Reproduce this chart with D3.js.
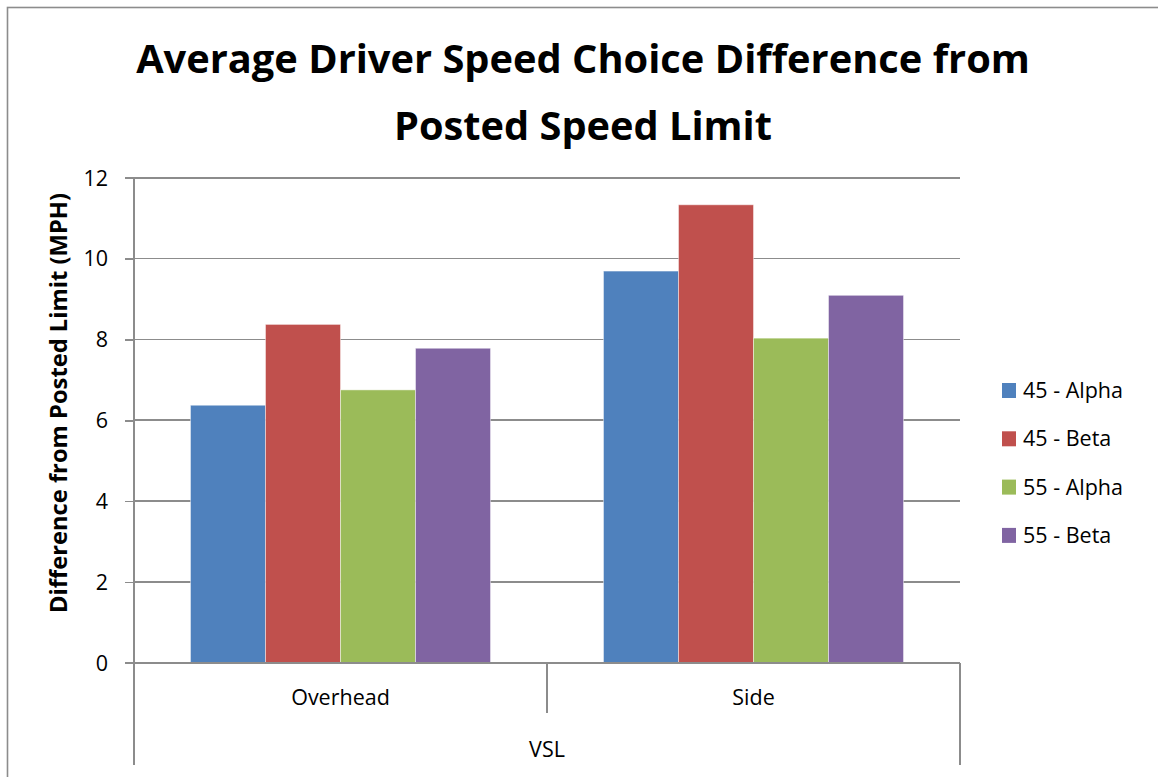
<!DOCTYPE html>
<html lang="en">
<head>
    <meta charset="utf-8">
    <title>Average Driver Speed Choice Difference from Posted Speed Limit</title>
    <style>
        body {
            margin: 0;
            background: #fff;
            font-family: "Open Sans", "Noto Sans", sans-serif;
        }
        .grid line { stroke: #8c8c8c; stroke-width: 1.6px; shape-rendering: crispEdges; }
        .axis line { stroke: #8c8c8c; stroke-width: 1.6px; shape-rendering: crispEdges; }
        text { fill: #000; }
    </style>
</head>
<body>
<div id="chart"></div>
<script src="https://d3js.org/d3.v7.min.js"></script>
<script>
    // data
    var categories = ["Overhead", "Side"];
    var series = ["45 - Alpha", "45 - Beta", "55 - Alpha", "55 - Beta"];
    var alpha45 = [6.37, 9.69];
    var beta45 = [8.37, 11.33];
    var alpha55 = [6.75, 8.03];
    var beta55 = [7.78, 9.09];
    var yTicks = [0, 2, 4, 6, 8, 10, 12];
    var groupLabel = "VSL";

    var values = [alpha45, beta45, alpha55, beta55];
    var colors = ["#4f81bd", "#c0504d", "#9bbb59", "#8064a2"];

    var width = 1158, height = 777;
    var plot = { left: 134, right: 960, top: 177.7, bottom: 662.7 };
    var labelSize = "21.5px";

    var svg = d3.select("#chart").append("svg")
        .attr("width", width)
        .attr("height", height);

    svg.append("rect")
        .attr("width", width).attr("height", height)
        .attr("fill", "#fff");

    // outer chart border (runs off the right and bottom edges)
    svg.append("rect")
        .attr("x", 7.5).attr("y", 7.5)
        .attr("width", width + 20).attr("height", height + 20)
        .attr("fill", "none")
        .attr("stroke", "#8c8c8c")
        .attr("stroke-width", 1.6);

    var x0 = d3.scaleBand()
        .domain(categories)
        .range([plot.left, plot.right]);

    var x1 = d3.scaleBand()
        .domain(series)
        .range([0, x0.bandwidth()])
        .paddingOuter(0.753);

    var y = d3.scaleLinear()
        .domain([0, 12])
        .range([plot.bottom, plot.top]);

    // gridlines
    svg.append("g")
        .attr("class", "grid")
        .selectAll("line")
        .data(yTicks.slice(1))
        .enter().append("line")
        .attr("x1", plot.left).attr("x2", plot.right)
        .attr("y1", function(d) { return y(d); })
        .attr("y2", function(d) { return y(d); });

    // bars
    var rows = [];
    categories.forEach(function(c, i) {
        series.forEach(function(s, j) {
            rows.push({ cat: c, s: s, v: values[j][i], color: colors[j] });
        });
    });

    svg.append("g")
        .selectAll("rect")
        .data(rows)
        .enter().append("rect")
        .attr("x", function(d) { return x0(d.cat) + x1(d.s); })
        .attr("y", function(d) { return y(d.v); })
        .attr("width", x1.bandwidth())
        .attr("height", function(d) { return y(0) - y(d.v); })
        .attr("fill", function(d) { return d.color; })
        .attr("stroke", "rgba(255,255,255,0.45)")
        .attr("stroke-width", 1);

    // y axis
    var yAxis = d3.axisLeft(y)
        .tickValues(yTicks)
        .tickSize(9)
        .tickPadding(17)
        .tickFormat(d3.format("d"));

    var gy = svg.append("g")
        .attr("class", "axis")
        .attr("transform", "translate(" + plot.left + ",0)")
        .call(yAxis);
    gy.select(".domain").remove();
    gy.selectAll("text")
        .style("font-size", labelSize)
        .style("font-family", "'Open Sans', sans-serif")
        .attr("dy", "0.34em");

    var axisG = svg.append("g").attr("class", "axis");
    // left axis line runs down through the category label area
    axisG.append("line")
        .attr("x1", plot.left).attr("x2", plot.left)
        .attr("y1", plot.top).attr("y2", 765);
    // baseline
    axisG.append("line")
        .attr("x1", plot.left).attr("x2", plot.right)
        .attr("y1", y(0)).attr("y2", y(0));
    // right outer divider
    axisG.append("line")
        .attr("x1", plot.right).attr("x2", plot.right)
        .attr("y1", y(0)).attr("y2", 765);
    // divider between categories
    axisG.selectAll(".cat-div")
        .data(categories.slice(1))
        .enter().append("line")
        .attr("x1", function(d) { return x0(d); })
        .attr("x2", function(d) { return x0(d); })
        .attr("y1", y(0)).attr("y2", 713);

    // category labels
    svg.append("g")
        .selectAll("text")
        .data(categories)
        .enter().append("text")
        .attr("x", function(d) { return x0(d) + x0.bandwidth() / 2; })
        .attr("y", 705)
        .attr("text-anchor", "middle")
        .style("font-size", labelSize)
        .text(function(d) { return d; });

    svg.append("text")
        .attr("x", (plot.left + plot.right) / 2)
        .attr("y", 757)
        .attr("text-anchor", "middle")
        .style("font-size", labelSize)
        .text(groupLabel);

    // fit a text element's font size to a target width
    function fitWidth(t, base, target) {
        t.style("font-size", base + "px");
        var w = t.node().getComputedTextLength();
        t.style("font-size", (base * target / w).toFixed(2) + "px");
    }

    // y axis title
    var yTitle = svg.append("text")
        .attr("transform", "translate(67,403) rotate(-90)")
        .attr("text-anchor", "middle")
        .style("font-weight", "bold")
        .text("Difference from Posted Limit (MPH)");
    fitWidth(yTitle, 18, 420);

    // chart title, sized to the reference width
    var titleLines = [
        { t: "Average Driver Speed Choice Difference from", y: 73, w: 894 },
        { t: "Posted Speed Limit", y: 140, w: 378 }
    ];
    titleLines.forEach(function(l) {
        var t = svg.append("text")
            .attr("x", 583)
            .attr("y", l.y)
            .attr("text-anchor", "middle")
            .style("font-weight", "bold")
            .text(l.t);
        fitWidth(t, 40, l.w);
    });

    // legend
    var legend = svg.append("g")
        .selectAll("g")
        .data(series)
        .enter().append("g")
        .attr("transform", function(d, i) { return "translate(1002," + (383 + i * 48.3) + ")"; });

    legend.append("rect")
        .attr("width", 14).attr("height", 15)
        .attr("fill", function(d, i) { return colors[i]; });

    legend.append("text")
        .attr("x", 21)
        .attr("y", 15)
        .style("font-size", labelSize)
        .text(function(d) { return d; });
</script>
</body>
</html>
